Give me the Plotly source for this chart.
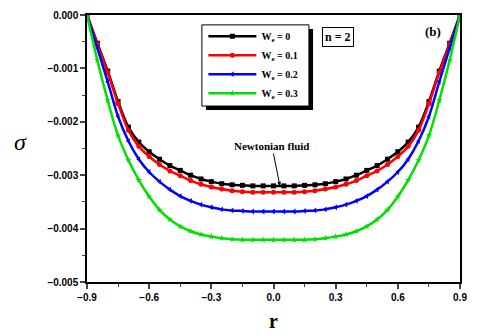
import plotly.graph_objects as go

r = [-0.90, -0.85, -0.80, -0.75, -0.70, -0.65, -0.60, -0.55, -0.50, -0.45, -0.40, -0.35, -0.30,
     -0.25, -0.20, -0.15, -0.10, -0.05, 0.00, 0.05, 0.10, 0.15, 0.20, 0.25, 0.30, 0.35, 0.40,
     0.45, 0.50, 0.55, 0.60, 0.65, 0.70, 0.75, 0.80, 0.85, 0.90]

sigma_we0 = [0.0, -0.00053, -0.00105, -0.00162, -0.00210, -0.00238, -0.00256, -0.00270, -0.00282,
             -0.00291, -0.00300, -0.00307, -0.00312, -0.00316, -0.00318, -0.00319, -0.00320,
             -0.00320, -0.00320, -0.00320, -0.00320, -0.00319, -0.00318, -0.00316, -0.00312,
             -0.00307, -0.00300, -0.00291, -0.00282, -0.00270, -0.00256, -0.00238, -0.00210,
             -0.00162, -0.00105, -0.00053, 0.0]
sigma_we1 = [0.0, -0.00055, -0.00108, -0.00166, -0.00216, -0.00246, -0.00265, -0.00280, -0.00292,
             -0.00301, -0.00310, -0.00317, -0.00322, -0.00326, -0.00329, -0.00331, -0.00332,
             -0.00332, -0.00332, -0.00332, -0.00332, -0.00331, -0.00329, -0.00326, -0.00322,
             -0.00317, -0.00310, -0.00301, -0.00292, -0.00280, -0.00265, -0.00246, -0.00216,
             -0.00166, -0.00108, -0.00055, 0.0]
sigma_we2 = [0.0, -0.00062, -0.00125, -0.00190, -0.00236, -0.00270, -0.00294, -0.00312, -0.00327,
             -0.00339, -0.00348, -0.00355, -0.00360, -0.00364, -0.00366, -0.00367, -0.00368,
             -0.00368, -0.00368, -0.00368, -0.00368, -0.00367, -0.00366, -0.00364, -0.00360,
             -0.00355, -0.00348, -0.00339, -0.00327, -0.00312, -0.00294, -0.00270, -0.00236,
             -0.00190, -0.00125, -0.00062, 0.0]
sigma_we3 = [0.0, -0.00085, -0.00160, -0.00226, -0.00272, -0.00309, -0.00340, -0.00365, -0.00383,
             -0.00396, -0.00405, -0.00411, -0.00415, -0.00418, -0.00420, -0.00421, -0.00421,
             -0.00421, -0.00421, -0.00421, -0.00421, -0.00421, -0.00420, -0.00418, -0.00415,
             -0.00411, -0.00405, -0.00396, -0.00383, -0.00365, -0.00340, -0.00309, -0.00272,
             -0.00226, -0.00160, -0.00085, 0.0]

names = ["W<sub>e</sub> = 0", "W<sub>e</sub> = 0.1", "W<sub>e</sub> = 0.2", "W<sub>e</sub> = 0.3"]
series = [sigma_we0, sigma_we1, sigma_we2, sigma_we3]
colors = ["#000000", "#ff0000", "#0000ff", "#00e000"]
symbols = ["square", "circle", "triangle-left", "star"]

fig = go.Figure()
for name, s, c, sym in zip(names, series, colors, symbols):
    fig.add_trace(go.Scatter(x=r, y=s, mode="lines+markers", name=name,
                             line=dict(color=c, width=2.5, shape="spline"),
                             marker=dict(color=c, symbol=sym, size=5)))

axfont = dict(family="Liberation Sans", size=10, color="black", weight="bold")
fig.update_xaxes(range=[-0.9, 0.9], tickvals=[-0.9, -0.6, -0.3, 0.0, 0.3, 0.6, 0.9],
                 tickformat=".1f", ticks="outside", ticklen=5, tickwidth=1.5,
                 minor=dict(ticks="outside", ticklen=3, dtick=0.15, tick0=-0.9, tickwidth=1.2),
                 showline=True, linecolor="black", linewidth=1.5, mirror=True, automargin=False,
                 showgrid=False, zeroline=False, tickfont=axfont,
                 title=dict(text="r", font=dict(family="Liberation Serif", size=20, weight="bold", color="black"),
                            standoff=12))
fig.update_yaxes(range=[-0.005, 0.0], dtick=0.001, tickformat=".3f", ticks="outside", ticklen=5,
                 tickwidth=1.5, automargin=False,
                 minor=dict(ticks="outside", ticklen=3, dtick=0.0005, tickwidth=1.2),
                 showline=True, linecolor="black", linewidth=1.5, mirror=True,
                 showgrid=False, zeroline=False, tickfont=axfont)

# legend frame with drop shadow (legend itself is transparent on top)
fig.add_shape(type="rect", xref="paper", yref="paper", x0=0.319, x1=0.606, y0=0.644, y1=0.948,
              fillcolor="black", line=dict(width=0), layer="above")
fig.add_shape(type="rect", xref="paper", yref="paper", x0=0.308, x1=0.595, y0=0.659, y1=0.963,
              fillcolor="white", line=dict(color="black", width=1), layer="above")

fig.add_annotation(text="σ", xref="paper", yref="paper", x=-0.2, y=0.524, showarrow=False,
                   font=dict(family="Liberation Serif", size=24, color="black", style="italic"))
fig.add_annotation(text="<b>n = 2</b>", xref="paper", yref="paper", x=0.63, y=0.955,
                   xanchor="left", yanchor="top", showarrow=False, bordercolor="black",
                   borderwidth=1, borderpad=2, bgcolor="white",
                   font=dict(family="Liberation Serif", size=12, color="black"))
fig.add_annotation(text="<b>(b)</b>", xref="paper", yref="paper", x=0.928, y=0.975,
                   xanchor="center", yanchor="top", showarrow=False,
                   font=dict(family="Liberation Serif", size=13, color="black"))
fig.add_annotation(text="<b>Newtonian fluid</b>", x=0.031, y=-0.0032, ax=-8, ay=-40,
                   showarrow=True, arrowhead=2, arrowsize=0.8, arrowwidth=1, arrowcolor="black",
                   font=dict(family="Liberation Serif", size=11, color="black"))

# page body has an 8px offset, so margins are shifted to compensate
fig.update_layout(width=480, height=336, margin=dict(l=79, r=28, t=7, b=62),
                  plot_bgcolor="white", paper_bgcolor="white",
                  legend=dict(x=0.312, y=0.975, xanchor="left", yanchor="top",
                              bgcolor="rgba(0,0,0,0)", borderwidth=0, tracegroupgap=0, itemwidth=48,
                              font=dict(family="Liberation Serif", size=10, color="black", weight="bold")))
fig.write_html("out.html")
